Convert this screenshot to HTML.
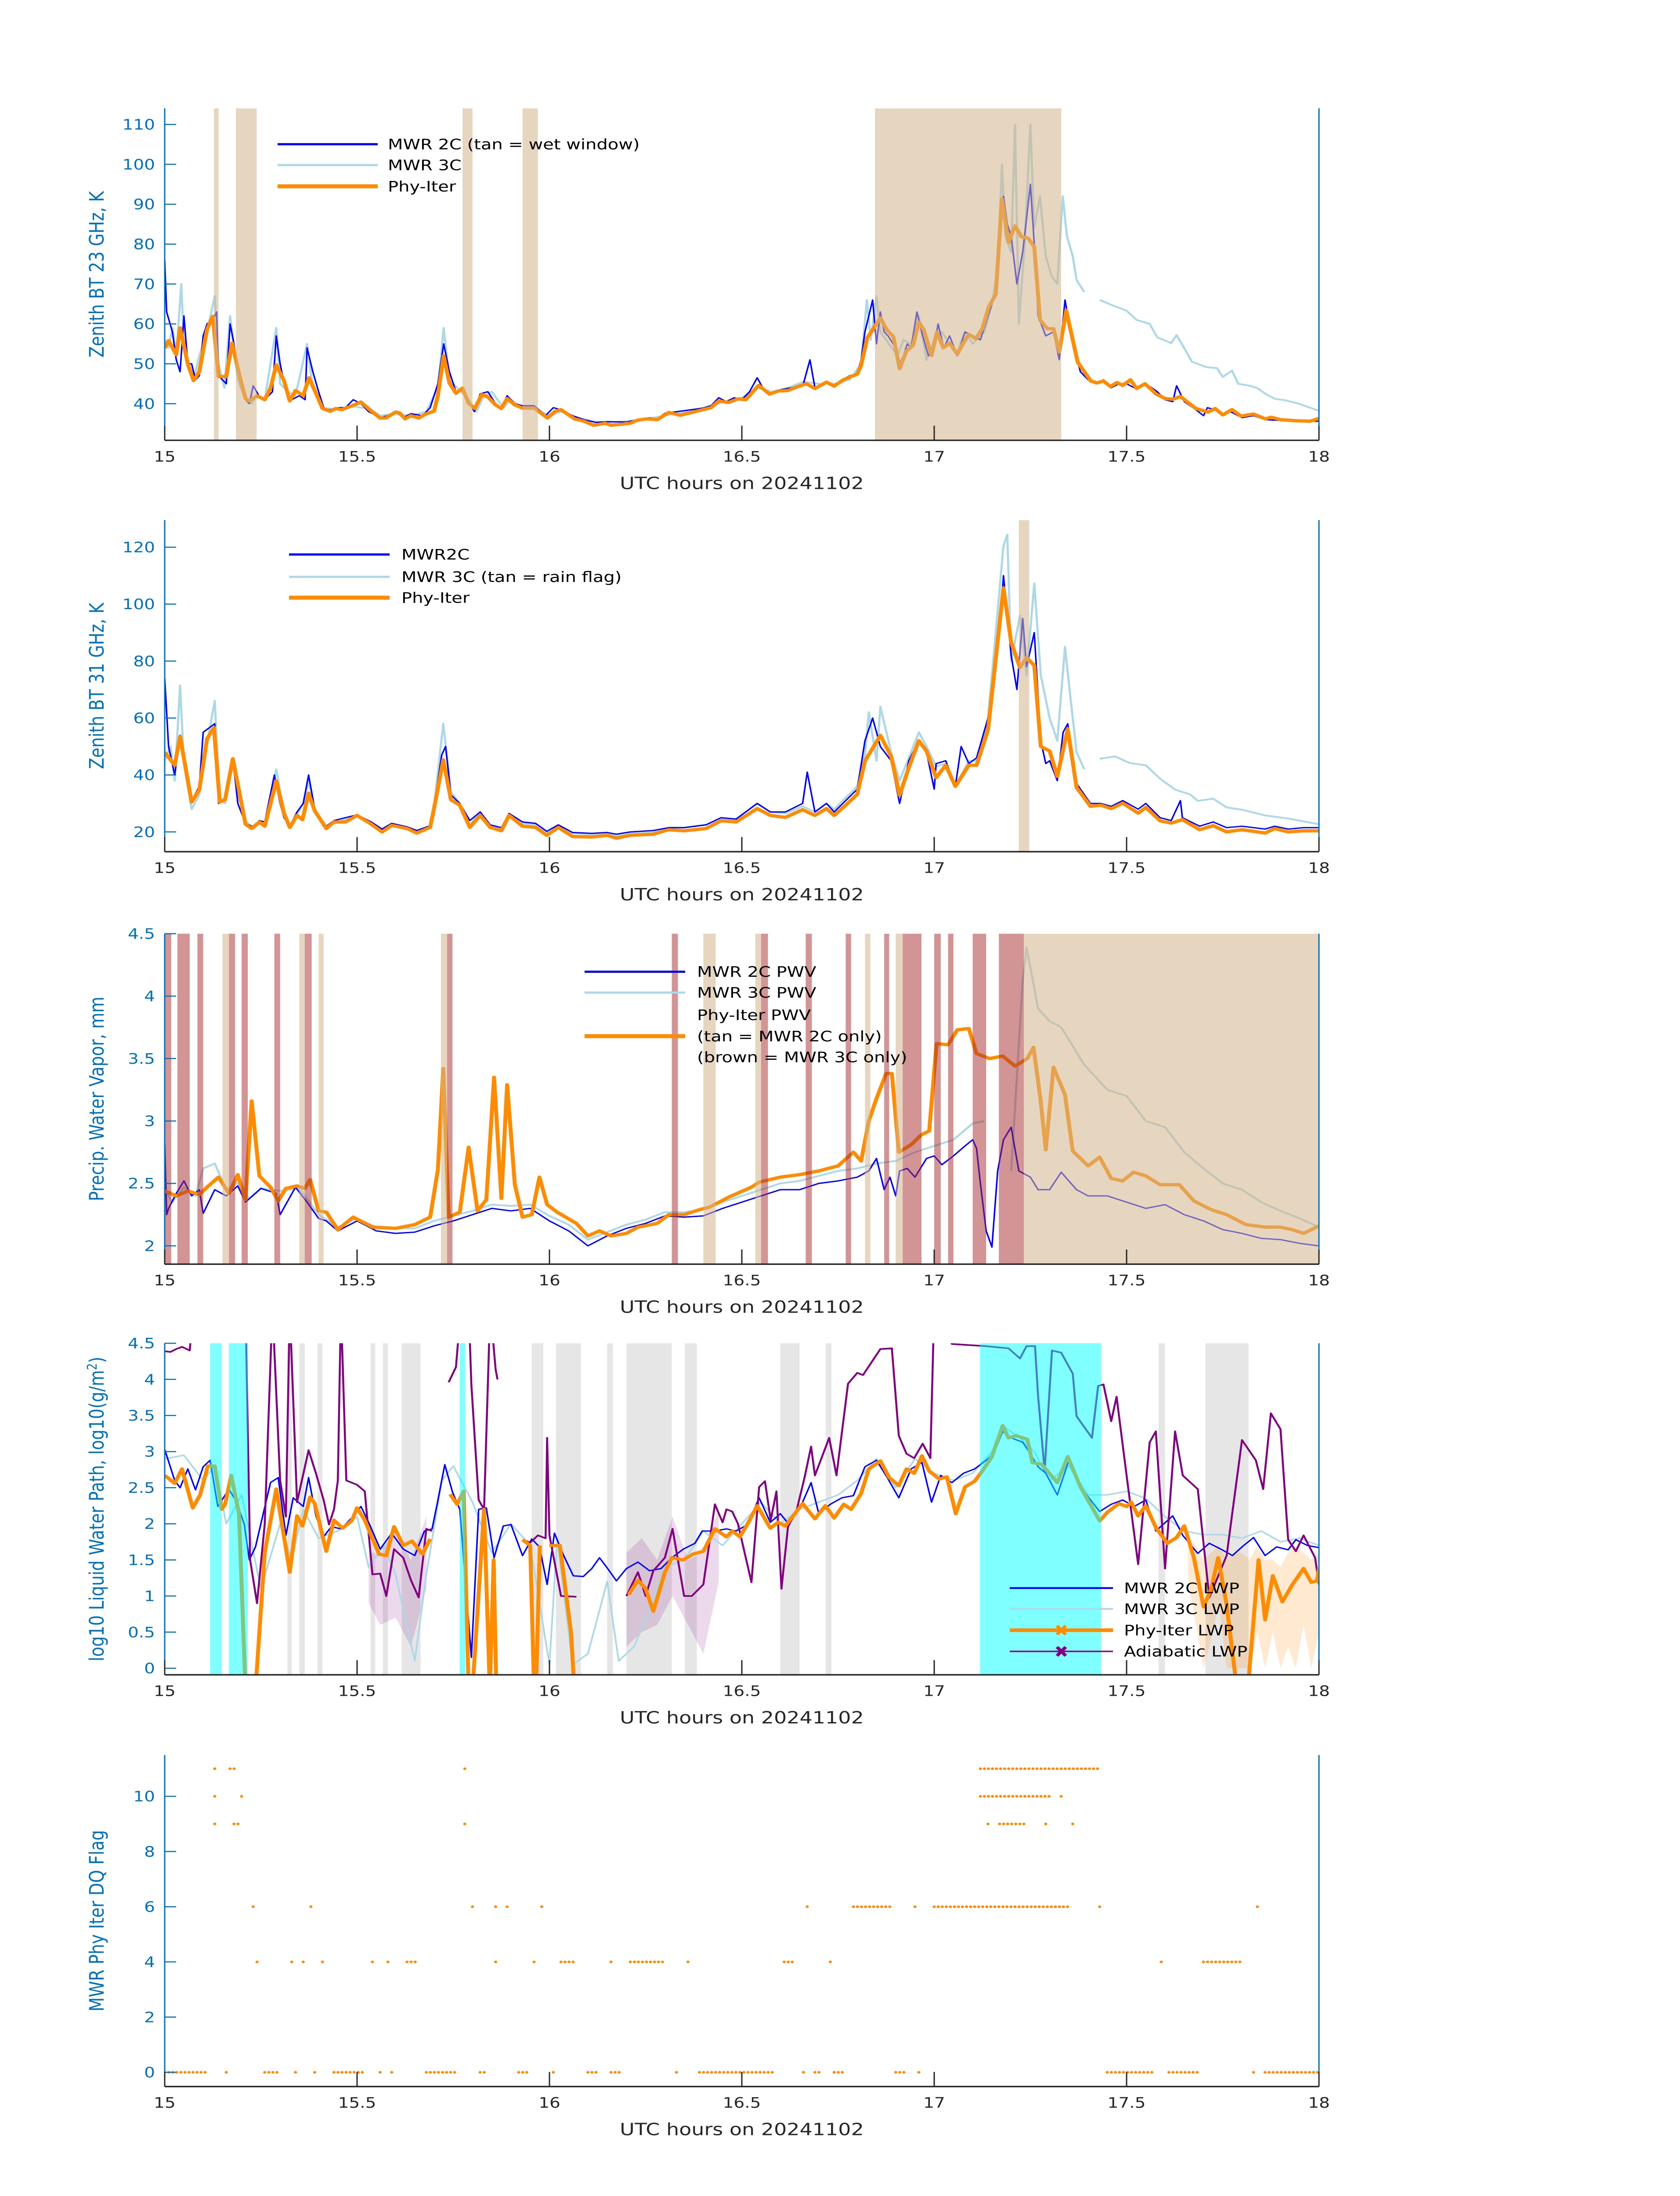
<!DOCTYPE html>
<html><head><meta charset="utf-8">
<style>
html,body{margin:0;padding:0;background:#fff;width:100%;height:100%;overflow:hidden;}
svg{display:block;position:absolute;left:0;top:0;width:100vw;height:100vh;}
text{font-family:"DejaVu Sans","Liberation Sans",sans-serif;}
</style></head>
<body>
<svg id="fig" viewBox="0 0 3825 6000" preserveAspectRatio="none" xmlns="http://www.w3.org/2000/svg">
<rect width="3825" height="6000" fill="#fff"/>
</svg>
<script>
// ---------- Panel 1: 23 GHz BT ----------
const p1OrangeT=[15.0,15.01,15.03,15.04,15.06,15.075,15.09,15.11,15.125,15.14,15.16,15.175,15.195,15.21,15.22,15.24,15.26,15.275,15.29,15.31,15.325,15.34,15.36,15.375,15.39,15.41,15.43,15.445,15.46,15.485,15.51,15.54,15.56,15.575,15.6,15.61,15.625,15.64,15.66,15.68,15.70,15.71,15.725,15.74,15.757,15.774,15.79,15.806,15.824,15.84,15.86,15.875,15.89,15.91,15.93,15.96,15.995,16.015,16.03,16.065,16.09,16.115,16.145,16.16,16.21,16.23,16.255,16.28,16.31,16.34,16.386,16.42,16.44,16.465,16.49,16.51,16.544,16.572,16.595,16.62,16.646,16.668,16.69,16.72,16.74,16.764,16.8,16.81,16.826,16.86,16.877,16.894,16.91,16.928,16.945,16.96,16.973,16.993,17.007,17.024,17.04,17.06,17.074,17.09,17.108,17.125,17.142,17.16,17.176,17.193,17.21,17.227,17.244,17.26,17.275,17.294,17.31,17.325,17.343,17.373,17.407,17.424,17.44,17.458,17.475,17.49,17.51,17.526,17.548,17.577,17.6,17.62,17.64,17.68,17.712,17.73,17.75,17.774,17.797,17.83,17.86,17.876,17.9,17.944,17.977,18.0];
const p1OrangeV=[53.9,55.8,52.3,59,50,45.8,48,58.6,61.9,46.8,46.8,55.2,46.8,41.3,40.7,42,41,43.9,49.7,45.8,40.7,43.3,42,46.5,43.3,38.8,38.1,38.8,38.5,39.4,40.4,37.9,36.4,36.4,37.9,37.7,36.2,37,36.4,37.5,38.1,42,52,45.2,42.6,43.9,40.1,38.8,42.3,41.7,39.7,38.8,41.3,39.7,38.9,38.9,36.4,38.1,38.5,36.2,35.6,34.6,35.1,34.6,35.1,35.9,36.2,36,37.8,37.1,38.2,39,40.7,40.3,41.2,41,44.6,42.4,43.2,43.3,44.3,45,43.8,45.4,44.4,46,47.4,49.6,56.5,61.5,58.5,56.8,48.8,53.2,54.6,60.4,58.5,52.1,57.9,54,55.2,52.4,54.9,57.4,56.3,58.8,64.3,67.4,91.3,80.4,84.6,81.8,81.5,79.3,61,58.8,58.8,53,63.4,50.4,45.7,45.2,45.7,44.3,45.3,44.6,46,43.8,45,42.4,41.3,41.1,41.8,38.8,37.9,38.8,37.2,38.5,36.9,37.4,36.2,36.6,36,35.7,35.6,36.3];
const p1BlueT=[15.0,15.005,15.02,15.03,15.04,15.05,15.06,15.07,15.08,15.09,15.1,15.11,15.125,15.135,15.14,15.16,15.17,15.18,15.19,15.21,15.22,15.23,15.245,15.26,15.28,15.29,15.3,15.315,15.33,15.35,15.365,15.37,15.385,15.4,15.415,15.43,15.45,15.47,15.49,15.51,15.53,15.56,15.58,15.6,15.62,15.64,15.67,15.69,15.71,15.725,15.74,15.757,15.774,15.79,15.805,15.82,15.84,15.86,15.875,15.89,15.91,15.93,15.96,15.99,16.01,16.03,16.06,16.09,16.12,16.15,16.2,16.23,16.26,16.28,16.3,16.33,16.37,16.4,16.42,16.44,16.46,16.48,16.5,16.52,16.54,16.56,16.58,16.6,16.63,16.66,16.677,16.69,16.72,16.74,16.76,16.78,16.8,16.81,16.82,16.84,16.85,16.86,16.87,16.88,16.9,16.91,16.92,16.93,16.94,16.955,16.97,16.985,17.0,17.01,17.025,17.04,17.06,17.08,17.1,17.12,17.14,17.16,17.17,17.18,17.19,17.2,17.215,17.23,17.25,17.26,17.27,17.29,17.31,17.325,17.34,17.36,17.38,17.4,17.42,17.44,17.46,17.48,17.5,17.52,17.55,17.58,17.6,17.62,17.63,17.65,17.68,17.7,17.71,17.73,17.75,17.77,17.8,17.83,17.86,17.9,17.95,18.0];
const p1BlueV=[76,63,58,51,48,62,50,50,46,47,57,60,61,63,47,45,60,55,48,41,40,44.5,42,41,43,57,50,43,41,42,41,54,48,43,38.5,38.5,39,39,41,40,38,36.5,37,38,36.5,37.5,37,39,45,55,48,43,44,40.5,38,42.5,43,40,39,42,40,39.5,39.5,37,39,38.5,37,36,35.3,35.5,35.4,36,36.5,36.2,37.6,38,38.5,38.9,39.5,41.5,40.5,41.5,41,43,46.5,43,42.5,43.5,44,45,51,44,45.5,44.5,46,47,47.5,51,58,66,55,63,58,57,54,50,52,55,54,63,57,52,54,60,54,57,52,58,57,56,62,68,85,92,85,82,70,78,95,80,62,57,58,51,66,55,48,46,45,46,44,45,45,44,45,43,41,40.5,44.5,40.5,38.5,37,39,38.5,37,38,36.5,37,36,35.8,35.6,35.6];
const p1LbT=[15.0,15.01,15.02,15.03,15.043,15.05,15.06,15.075,15.09,15.11,15.13,15.14,15.155,15.17,15.19,15.21,15.225,15.24,15.26,15.29,15.3,15.32,15.34,15.37,15.385,15.41,15.45,15.48,15.51,15.53,15.56,15.6,15.64,15.68,15.71,15.725,15.74,15.76,15.79,15.81,15.83,15.85,15.88,15.9,15.93,15.96,16.0,16.03,16.07,16.12,16.16,16.22,16.27,16.3,16.35,16.4,16.44,16.47,16.5,16.54,16.58,16.62,16.66,16.7,16.74,16.78,16.81,16.825,16.835,16.85,16.86,16.875,16.89,16.905,16.92,16.94,16.96,16.98,17.0,17.02,17.04,17.06,17.08,17.1,17.13,17.15,17.165,17.176,17.185,17.2,17.21,17.22,17.235,17.25,17.26,17.275,17.29,17.305,17.32,17.334,17.345,17.36,17.37,17.39,null,17.43,17.47,17.5,17.526,17.56,17.58,17.616,17.63,17.65,17.67,17.706,17.735,17.75,17.774,17.79,17.82,17.84,17.864,17.886,17.91,17.944,17.977,18.0];
const p1LbV=[56,54,59,52,70,55,49,46,52,58,67,50,44,62,46,41,40,42,41,59,45,43,42,55,44,39,38.5,39.5,39,39,37,37.5,37,38,44,59,46,44,41,38,42,43,39,41,39,39,37,38,36.5,35.5,35.3,35.8,36.5,37,38,39,40,41,41.5,44,43,44,45.5,45,45,46,50,66,56,67,58,56,54,52,56,55,62,51,56,58,55,53,58,55,58,65,74,100,82,78,110,60,80,110,84,92,77,72,70,92,82,77,71,68,null,66,64.4,63.3,61,60,56.6,55.2,57.2,53.9,50.5,49.2,48.9,46.7,48.3,45,44.5,43.9,42.3,41.2,40.9,40.1,39,38.2];
const p1Spans=[[15.128,15.14],[15.185,15.239],[15.774,15.80],[15.93,15.97],[16.846,17.33]];

// ---------- Panel 2: 31 GHz BT ----------
const p2OrangeT=[15.0,15.026,15.04,15.07,15.09,15.11,15.128,15.143,15.157,15.177,15.21,15.226,15.246,15.26,15.29,15.31,15.325,15.344,15.358,15.374,15.39,15.42,15.44,15.47,15.5,15.537,15.565,15.59,15.63,15.655,15.69,15.7,15.724,15.744,15.767,15.793,15.82,15.846,15.875,15.895,15.93,15.964,15.993,16.023,16.06,16.11,16.15,16.174,16.21,16.27,16.31,16.35,16.407,16.446,16.485,16.54,16.574,16.613,16.658,16.69,16.72,16.74,16.77,16.8,16.82,16.86,16.888,16.91,16.934,16.96,16.98,17.005,17.03,17.055,17.09,17.11,17.14,17.18,17.2,17.223,17.24,17.26,17.277,17.3,17.32,17.347,17.37,17.406,17.433,17.46,17.49,17.53,17.55,17.587,17.616,17.645,17.69,17.725,17.76,17.8,17.86,17.885,17.92,17.96,18.0];
const p2OrangeV=[48,43.4,53.5,30.5,34.8,52.7,56.6,30.5,31.3,45.7,22.7,21.2,23.5,22,37.9,26.6,21.6,25.8,24.3,33.6,27.4,21.2,23.5,23.5,25.8,22.7,20,22.3,21.2,19.6,21.6,28.2,45.3,31.3,29.4,21.6,25.8,21.6,20.4,25.8,22,21.6,18.8,21.6,18.4,18.2,18.8,17.8,18.8,19.2,20.8,20.4,21.2,23.9,23.5,28.2,25.8,25.1,27.8,25.8,28.2,25.8,29.4,33.2,44.9,53.9,46.5,32.9,42.6,52,48.4,39.1,43.4,36,43.4,43.4,55.9,105.7,86.6,77.7,81.2,78.5,50,48.4,39.5,56.2,35.6,29,29.4,28.2,30.1,26.6,28.6,23.9,23.1,24.3,20.8,22.2,20,20.8,19.6,21.2,20,20.4,20.4];
const p2BlueT=[15.0,15.01,15.026,15.04,15.06,15.07,15.09,15.1,15.11,15.13,15.14,15.157,15.177,15.19,15.21,15.23,15.246,15.26,15.285,15.3,15.31,15.325,15.344,15.36,15.374,15.39,15.42,15.44,15.47,15.5,15.537,15.565,15.59,15.63,15.655,15.69,15.7,15.72,15.73,15.744,15.767,15.793,15.82,15.846,15.875,15.895,15.93,15.964,15.993,16.023,16.06,16.11,16.15,16.174,16.21,16.27,16.31,16.35,16.407,16.446,16.485,16.54,16.574,16.613,16.658,16.67,16.69,16.72,16.74,16.77,16.8,16.82,16.84,16.86,16.888,16.91,16.934,16.96,16.98,17.0,17.005,17.03,17.055,17.07,17.09,17.11,17.14,17.17,17.18,17.2,17.215,17.23,17.24,17.26,17.277,17.29,17.3,17.32,17.335,17.347,17.37,17.406,17.433,17.46,17.49,17.53,17.55,17.587,17.616,17.64,17.645,17.69,17.725,17.76,17.8,17.86,17.885,17.92,17.96,18.0];
const p2BlueV=[74,50,40,54,36,31,36,55,56,58,30,32,46,30,23,21.8,24,23.5,40,30,25,22,27,30,40,28,22,24,25,26,23.5,21,23,21.8,20.5,22.2,29,47,50,33,30,24,27,22.5,21.5,26.5,23.5,23,20.2,22.5,19.8,19.5,19.8,19.2,20,20.5,21.5,21.5,22.5,25,24.5,30,27,27,30,41,27,30,27,31,35,52,60,50,45,30,45,52,48,35,44,45,36,50,44,46,60,90,110,82,70,95,78,90,52,44,45,38,55,58,37,30,30,29,31,28,30,25,24,31,25,22,23.5,21.5,22,21,22,21,21.5,21.5];
const p2LbT=[15.0,15.015,15.026,15.04,15.05,15.07,15.09,15.11,15.13,15.143,15.157,15.177,15.19,15.21,15.23,15.246,15.26,15.29,15.31,15.325,15.344,15.36,15.374,15.39,15.42,15.44,15.47,15.5,15.537,15.565,15.59,15.63,15.655,15.69,15.7,15.724,15.744,15.767,15.793,15.82,15.846,15.875,15.895,15.93,15.964,15.993,16.023,16.06,16.11,16.15,16.174,16.21,16.27,16.31,16.35,16.407,16.446,16.485,16.54,16.574,16.613,16.658,16.69,16.72,16.74,16.77,16.8,16.82,16.83,16.85,16.86,16.888,16.91,16.934,16.96,16.98,17.005,17.03,17.055,17.09,17.11,17.14,17.18,17.19,17.2,17.223,17.24,17.26,17.277,17.3,17.32,17.34,17.35,17.37,17.39,null,17.43,17.47,17.508,17.55,17.587,17.627,17.665,17.685,17.725,17.76,17.8,17.86,17.92,18.0];
const p2LbV=[45,50,38,71.4,44,28,33,51,66,32,30,44,33,24,21,23,22,42,27,22,26,30,38,28,21.5,23,24.5,26,23,21,23,21.5,20.2,22,29,58,34,30,22.5,27,22,21,26,23,22.5,19.8,22,19.6,19,19.4,18.6,19.5,20,21.5,21.5,22.5,24.5,24.5,30,27,26.5,29,27,30,28,32,36,47,62,45,64,48,38,46,55,50,43,44,36,45,45,60,120.5,124.4,80,96,75,107.3,75,60,52,85,72.2,48,42,null,45.7,46.5,44.2,43.4,38.7,34.8,33.2,30.9,31.7,28.6,27.8,25.8,24.7,22.7];
const p2Spans=[[17.22,17.247]];

// ---------- Panel 3: PWV ----------
const p3OrangeT=[15.0,15.03,15.06,15.09,15.11,15.14,15.167,15.19,15.21,15.226,15.246,15.275,15.295,15.315,15.344,15.364,15.378,15.4,15.42,15.45,15.49,15.54,15.6,15.65,15.69,15.71,15.724,15.738,15.767,15.79,15.813,15.836,15.856,15.875,15.89,15.91,15.93,15.954,15.974,15.994,16.02,16.07,16.1,16.13,16.16,16.2,16.23,16.28,16.31,16.35,16.39,16.416,16.466,16.525,16.545,16.6,16.65,16.7,16.75,16.79,16.81,16.83,16.85,16.875,16.89,16.908,16.94,16.967,16.987,17.006,17.036,17.06,17.09,17.11,17.144,17.178,17.21,17.242,17.258,17.276,17.29,17.31,17.34,17.36,17.4,17.43,17.46,17.49,17.518,17.55,17.587,17.637,17.675,17.72,17.76,17.81,17.86,17.9,17.93,17.96,18.0];
const p3OrangeV=[2.44,2.40,2.44,2.41,2.47,2.55,2.42,2.57,2.37,3.16,2.56,2.47,2.36,2.46,2.48,2.46,2.53,2.28,2.27,2.13,2.23,2.15,2.14,2.17,2.23,2.61,3.42,2.23,2.27,2.79,2.28,2.37,3.35,2.38,3.29,2.49,2.23,2.25,2.55,2.33,2.27,2.18,2.08,2.12,2.08,2.10,2.15,2.18,2.25,2.25,2.29,2.31,2.39,2.47,2.51,2.55,2.57,2.6,2.64,2.75,2.68,3.0,3.18,3.38,3.38,2.75,2.81,2.89,2.92,3.62,3.61,3.73,3.74,3.54,3.5,3.52,3.44,3.5,3.59,3.18,2.77,3.43,3.21,2.76,2.64,2.71,2.54,2.52,2.59,2.56,2.49,2.49,2.36,2.29,2.25,2.17,2.15,2.15,2.13,2.1,2.16];
const p3BlueT=[15.0,15.005,15.01,15.03,15.05,15.07,15.09,15.1,15.13,15.16,15.19,15.21,15.25,15.29,15.3,15.34,15.37,15.4,15.42,15.45,15.5,15.55,15.6,15.65,15.7,15.75,15.8,15.85,15.9,15.95,16.0,16.05,16.1,16.15,16.2,16.25,16.3,16.35,16.4,16.45,16.5,16.55,16.6,16.65,16.7,16.75,16.8,16.83,16.85,16.87,16.885,16.9,16.91,16.93,16.95,16.98,17.0,17.02,17.05,17.08,17.1,17.11,17.12,17.135,17.15,17.165,17.18,17.2,17.22,17.25,17.27,17.3,17.33,17.37,17.4,17.45,17.5,17.55,17.6,17.65,17.7,17.75,17.8,17.85,17.9,17.95,18.0];
const p3BlueV=[2.82,2.25,2.3,2.42,2.52,2.4,2.45,2.26,2.45,2.4,2.48,2.35,2.46,2.42,2.25,2.47,2.35,2.22,2.2,2.12,2.2,2.12,2.1,2.11,2.16,2.2,2.25,2.3,2.28,2.3,2.2,2.12,2.0,2.08,2.14,2.18,2.24,2.23,2.24,2.3,2.35,2.4,2.45,2.45,2.5,2.52,2.55,2.6,2.7,2.45,2.55,2.4,2.6,2.62,2.55,2.7,2.72,2.65,2.72,2.8,2.85,2.78,2.5,2.12,1.99,2.6,2.85,2.95,2.6,2.55,2.45,2.45,2.59,2.45,2.4,2.4,2.35,2.3,2.33,2.25,2.2,2.13,2.1,2.06,2.05,2.02,2.0];
const p3LbT=[15.0,15.02,15.05,15.08,15.1,15.13,15.16,15.19,15.22,15.25,15.3,15.35,15.4,15.45,15.5,15.55,15.6,15.65,15.7,15.75,15.8,15.85,15.9,15.95,16.0,16.05,16.1,16.15,16.2,16.25,16.3,16.35,16.4,16.45,16.5,16.55,16.6,16.65,16.7,16.75,16.8,16.85,16.9,16.95,17.0,17.05,17.1,17.13,null,17.2,17.23,17.24,17.27,17.3,17.33,17.37,17.39,17.42,17.45,17.5,17.55,17.6,17.65,17.7,17.75,17.8,17.85,17.9,17.95,18.0];
const p3LbV=[2.45,2.35,2.47,2.4,2.62,2.66,2.45,2.5,2.38,2.46,2.44,2.46,2.25,2.15,2.22,2.15,2.14,2.14,2.2,2.24,2.28,2.33,2.32,2.33,2.24,2.17,2.05,2.11,2.17,2.21,2.27,2.27,2.29,2.35,2.4,2.45,2.5,2.52,2.56,2.6,2.62,2.66,2.68,2.75,2.8,2.85,2.98,3.0,null,2.6,4.12,4.39,3.9,3.8,3.75,3.55,3.45,3.35,3.25,3.2,3.0,2.95,2.75,2.62,2.5,2.45,2.35,2.28,2.22,2.15];
const p3Brown=[[15.0,15.017],[15.033,15.065],[15.085,15.1],[15.167,15.183],[15.2,15.216],[15.285,15.3],[15.364,15.382],[15.734,15.748],[16.318,16.334],[16.55,16.568],[16.666,16.682],[16.77,16.784],[16.87,16.883],[16.918,16.967],[17.0,17.017],[17.036,17.05],[17.1,17.135],[17.168,17.233]];
const p3Tan=[[15.15,15.167],[15.35,15.364],[15.4,15.413],[15.718,15.734],[16.4,16.432],[16.535,16.55],[16.82,16.834],[16.9,16.918],[17.233,18.0]];

// ---------- Panel 4: LWP ----------
const p4OrangeT=[15.0,15.026,15.045,15.073,15.092,15.112,15.13,15.148,15.157,15.173,15.193,15.21,15.236,15.26,15.29,15.325,15.344,15.358,15.378,15.39,15.42,15.44,15.462,15.486,15.5,15.52,15.557,15.576,15.596,15.62,15.643,15.67,15.69,null,15.742,15.76,15.777,15.79,15.8,15.83,15.845,15.855,15.862,15.87,null,15.93,15.95,15.96,15.965,15.975,null,16.0,16.027,16.056,16.065,null,16.206,16.23,16.25,16.27,16.3,16.318,16.348,16.373,16.4,16.43,16.46,16.475,16.495,16.514,16.54,16.574,16.594,16.613,16.658,16.69,16.717,16.74,16.765,16.784,16.81,16.83,16.86,16.883,16.908,16.928,16.948,16.968,16.987,17.013,17.033,17.056,17.08,17.105,17.125,17.15,17.178,17.193,17.213,17.242,17.255,17.28,17.32,17.347,17.38,17.43,17.45,17.48,17.5,17.512,17.53,17.55,17.577,17.606,17.63,17.65,17.675,17.7,17.72,17.738,17.76,17.787,17.815,17.843,17.86,17.88,17.905,17.93,17.96,17.98,17.995,18.0];
const p4OrangeV=[2.67,2.56,2.76,2.22,2.4,2.8,2.8,2.2,2.27,2.67,2.14,-0.3,-0.3,1.6,2.48,1.33,2.11,1.97,2.37,2.28,1.62,2.05,1.94,2.04,2.22,2.05,1.58,1.56,1.96,1.7,1.76,1.58,1.79,null,2.41,2.27,2.45,-0.3,-0.3,2.2,-0.3,1.5,-0.3,-0.3,null,1.78,1.7,-0.3,-0.3,1.7,null,1.7,1.7,0.49,-0.3,null,1.02,1.22,1.1,0.79,1.33,1.53,1.5,1.58,1.62,1.93,1.82,1.9,1.82,1.99,2.25,1.94,2.02,1.97,2.28,2.07,2.25,2.08,2.27,2.2,2.42,2.76,2.87,2.64,2.53,2.76,2.7,2.94,2.73,2.62,2.65,2.14,2.51,2.59,2.73,2.93,3.36,3.19,3.22,3.17,2.85,2.82,2.57,2.93,2.51,2.04,2.16,2.28,2.24,2.3,2.11,2.25,1.94,1.73,1.81,1.97,1.53,0.85,1.1,1.53,0.88,-0.3,-0.3,1.5,0.67,1.28,0.92,1.15,1.38,1.19,1.21,1.38];
const p4BlueT=[15.0,15.026,15.04,15.06,15.08,15.1,15.118,15.138,15.167,15.187,15.207,15.22,15.236,15.256,15.275,15.295,15.315,15.334,15.36,15.374,15.393,15.413,15.433,15.458,15.486,15.51,15.53,15.56,15.59,15.62,15.65,15.675,15.695,15.708,15.728,15.748,15.767,15.797,15.816,15.836,15.856,15.88,15.9,15.93,15.954,15.974,15.994,16.013,16.037,16.062,16.088,16.11,16.13,16.15,16.174,16.2,16.23,16.26,16.29,16.318,16.348,16.378,16.397,16.43,16.46,16.485,16.515,16.545,16.574,16.6,16.623,16.658,16.68,16.7,16.73,16.76,16.79,16.82,16.85,16.878,16.908,16.94,16.968,16.993,17.017,17.046,17.076,17.105,17.135,17.155,17.178,17.2,17.23,17.25,17.27,17.29,17.32,17.35,17.38,17.43,17.46,17.49,17.52,17.55,17.576,17.62,17.646,17.685,17.715,17.745,17.775,17.8,17.83,17.86,17.89,17.92,17.94,17.97,18.0];
const p4BlueV=[3.03,2.6,2.5,2.76,2.47,2.79,2.88,2.24,2.48,2.3,1.99,1.5,1.68,2.14,2.57,2.64,1.84,2.36,2.24,2.64,2.11,1.82,1.96,1.93,2.08,2.24,2.02,1.65,1.87,1.65,1.56,1.9,1.93,2.27,2.82,2.44,2.2,0.15,2.2,2.22,1.53,1.97,1.99,1.56,1.79,1.68,1.16,1.87,1.56,1.28,1.27,1.38,1.53,1.39,1.21,1.38,1.47,1.35,1.38,1.53,1.65,1.73,1.9,1.9,1.93,1.9,1.99,2.36,2.02,2.14,1.99,2.3,2.57,2.14,2.27,2.36,2.39,2.79,2.88,2.64,2.36,2.76,2.85,2.3,2.67,2.57,2.7,2.76,2.88,2.97,3.28,3.19,3.13,2.97,2.79,2.7,2.4,2.88,2.51,2.17,2.27,2.33,2.24,2.33,1.9,2.11,1.84,1.59,1.73,1.65,1.56,1.68,1.81,1.56,1.68,1.64,1.78,1.7,1.67];
const p4LbT=[15.0,15.05,15.1,15.13,15.16,15.2,15.25,15.3,15.33,15.36,15.4,15.45,15.5,15.53,15.57,15.6,15.65,15.68,15.72,15.75,15.8,15.85,15.9,15.95,16.0,16.02,16.06,16.1,16.15,16.18,16.22,16.26,16.3,16.35,16.4,16.45,16.5,16.55,16.6,16.65,16.7,16.75,16.8,16.85,16.9,16.95,17.0,17.05,17.1,17.15,17.18,17.22,17.26,17.3,17.35,17.4,17.45,17.5,17.55,17.6,17.65,17.7,17.75,17.8,17.85,17.9,17.95,18.0];
const p4LbV=[2.9,2.95,2.6,2.8,2.0,2.4,1.1,2.0,1.5,2.2,1.8,1.9,2.1,1.4,1.7,1.3,0.1,1.3,2.6,2.8,2.3,1.6,2.0,1.7,0.05,1.8,0.05,0.2,1.2,0.1,0.3,0.8,1.4,1.5,1.9,1.7,2.0,2.3,2.0,2.2,2.3,2.4,2.6,2.9,2.5,2.9,2.7,2.6,2.7,3.0,3.35,3.2,3.0,2.6,2.8,2.4,2.4,2.45,2.35,2.1,1.9,1.85,1.85,1.8,1.9,1.75,1.8,1.7];
const p4PurpleT=[15.0,15.015,15.03,15.045,15.065,15.075,15.21,15.222,15.24,15.26,15.28,15.3,15.315,15.325,15.344,15.374,15.393,15.413,15.427,15.44,15.45,15.458,15.472,15.5,15.52,15.54,15.56,15.576,15.596,15.62,15.64,15.66,15.68,15.695,null,15.738,15.757,15.77,15.79,15.797,15.816,15.83,15.846,15.86,15.865,null,15.93,15.95,15.97,15.99,15.994,16.0,16.03,16.07,null,16.2,16.23,16.25,16.27,16.3,16.32,16.35,16.37,16.4,16.43,16.45,16.46,16.475,16.49,16.525,16.545,16.56,16.575,16.59,16.603,16.62,16.643,16.663,16.68,16.69,16.727,16.746,16.776,16.8,16.815,16.86,16.89,16.908,16.928,16.948,16.97,16.99,17.0,17.046,17.135,17.193,17.223,17.24,17.262,17.27,17.287,17.306,17.33,17.36,17.37,17.41,17.426,17.44,17.46,17.474,17.5,17.53,17.56,17.576,17.6,17.626,17.646,17.685,17.715,17.76,17.8,17.836,17.855,17.875,17.9,17.92,17.94,17.96,17.99,18.0];
const p4PurpleV=[4.39,4.38,4.42,4.45,4.4,5,5,1.5,0.9,2.0,5,2.6,2.1,5,2.3,3.02,2.7,2.33,1.99,2.2,2.6,5,2.6,2.54,2.45,1.3,1.31,1.0,1.65,1.53,1.22,0.98,1.93,1.9,null,3.96,4.17,5,5,3.93,2.33,2.2,5,4.14,4.0,null,1.78,1.74,1.84,1.8,3.19,1.84,1.0,0.99,null,1.0,1.33,1.0,1.35,1.53,1.93,1.0,1.0,1.16,2.27,2.02,2.2,2.17,2.0,1.19,2.51,2.59,2.05,2.45,1.1,1.96,2.2,2.64,3.07,2.67,3.19,2.67,3.94,4.09,4.06,4.42,4.43,3.22,2.97,2.91,3.11,2.91,5,4.49,4.46,4.43,4.29,4.46,4.46,3.77,2.73,4.4,4.37,4.08,3.49,3.19,3.91,3.93,3.42,3.76,2.67,1.44,3.13,3.28,1.38,3.28,2.67,2.48,0.98,1.56,3.16,2.88,2.48,3.53,3.31,1.78,1.62,1.84,1.53,1.16];
const p4BandT=[17.66,17.68,17.7,17.72,17.74,17.76,17.78,17.8,17.82,17.84,17.86,17.88,17.9,17.92,17.94,17.96,17.98,18.0];
const p4BandHi=[1.8,1.7,1.5,1.6,1.7,1.5,1.6,1.6,1.5,1.7,1.5,1.5,1.4,1.6,1.7,1.6,1.5,1.6];
const p4BandLo=[1.2,0.6,0,0.4,0.9,0,0,0,0,0.5,0,0.5,0,0.3,0,0.6,0,0.5];
const p4PBandT=[15.53,15.56,15.6,15.64,15.68,null,16.2,16.24,16.28,16.32,16.36,16.4,16.44];
const p4PBandHi=[1.6,1.6,1.9,1.5,2.1,null,1.6,1.8,1.5,2.1,1.5,1.6,2.2];
const p4PBandLo=[0.9,0.6,0.7,0.3,1.1,null,0.3,0.5,0.6,1.0,0.6,0.2,1.2];
const p4Cyan=[[15.118,15.148],[15.167,15.216],[15.767,15.781],[17.119,17.434]];
const p4Gray=[[15.319,15.33],[15.35,15.364],[15.397,15.41],[15.535,15.547],[15.567,15.58],[15.616,15.665],[15.954,15.984],[16.017,16.082],[16.15,16.165],[16.2,16.318],[16.352,16.383],[16.6,16.65],[16.718,16.733],[17.583,17.6],[17.705,17.817]];

// ---------- Panel 5: DQ flags (runs of consecutive flagged samples) ----------
const dqFlags=[11,10,9,6,4,0];
const dqRuns=[
 [[15.13,15.14],[15.17,15.19],[15.78,15.78],[17.12,17.43]],
 [[15.13,15.13],[15.2,15.21],[17.12,17.3],[17.33,17.34]],
 [[15.13,15.13],[15.18,15.2],[15.78,15.78],[17.14,17.14],[17.17,17.24],[17.29,17.29],[17.36,17.37]],
 [[15.23,15.23],[15.38,15.38],[15.8,15.8],[15.86,15.86],[15.89,15.89],[15.98,15.99],[16.67,16.67],[16.79,16.89],[16.95,16.95],[17.0,17.35],[17.43,17.44],[17.84,17.84]],
 [[15.24,15.24],[15.33,15.33],[15.36,15.36],[15.41,15.41],[15.54,15.54],[15.58,15.58],[15.63,15.66],[15.86,15.87],[15.96,15.97],[16.03,16.07],[16.16,16.16],[16.21,16.3],[16.36,16.37],[16.61,16.64],[16.73,16.73],[17.59,17.59],[17.7,17.8]],
 [[15.0,15.11],[15.16,15.16],[15.26,15.3],[15.34,15.34],[15.39,15.39],[15.44,15.52],[15.56,15.56],[15.59,15.59],[15.68,15.76],[15.82,15.84],[15.92,15.95],[16.01,16.01],[16.1,16.13],[16.16,16.19],[16.33,16.34],[16.39,16.58],[16.66,16.66],[16.69,16.71],[16.74,16.77],[16.9,16.93],[16.96,16.97],[17.45,17.57],[17.61,17.69],[17.83,17.83],[17.86,18.0]]
];
const dqStep=0.0105;

const xTicks=[15,15.5,16,16.5,17,17.5,18];
const xTickLabels=['15','15.5','16','16.5','17','17.5','18'];

// ---------- rendering ----------
const NS='http://www.w3.org/2000/svg';
const svg=document.getElementById('fig');
const X0=375,X1=3003;
function xs(t){return X0+(t-15)*(X1-X0)/3;}
function mk(tag,attrs,parent){const e=document.createElementNS(NS,tag);for(const k in attrs)e.setAttribute(k,attrs[k]);(parent||svg).appendChild(e);return e;}
const panels=[
 {top:296,bot:1203,v0:40,y0:1103,k:10.9,ticks:[40,50,60,70,80,90,100,110],lab:'Zenith BT 23 GHz, K',name:'bt23'},
 {top:1421,bot:2327,v0:20,y0:2273,k:7.78,ticks:[20,40,60,80,100,120],lab:'Zenith BT 31 GHz, K',name:'bt31'},
 {top:2551,bot:3454,v0:2,y0:3404,k:341.2,ticks:[2,2.5,3,3.5,4,4.5],lab:'Precip. Water Vapor, mm',name:'pwv'},
 {top:3670,bot:4576,v0:0,y0:4558,k:197.3,ticks:[0,0.5,1,1.5,2,2.5,3,3.5,4,4.5],lab:'log10 Liquid Water Path, log10(g/m$)',name:'lwp'},
 {top:4795,bot:5701,v0:0,y0:5662,k:75.4,ticks:[0,2,4,6,8,10],lab:'MWR Phy Iter DQ Flag',name:'dq'}
];
panels.forEach((p,i)=>{
 p.ys=v=>p.y0-(v-p.v0)*p.k;
 const cp=mk('clipPath',{id:'clip'+i});
 mk('rect',{x:X0,y:p.top,width:X1-X0,height:p.bot-p.top},cp);
 p.g=mk('g',{'clip-path':'url(#clip'+i+')'});
 
 
});
function spans(p,arr,fill,op,name){
 arr.forEach(s=>{const r=mk('rect',{x:xs(s[0]),y:p.top,width:Math.max(2,xs(s[1])-xs(s[0])),height:p.bot-p.top,fill:fill,'fill-opacity':op},p.g);
 
 });
}
function line(p,T,V,color,w,name,op){
 let d='',pen=false;
 for(let i=0;i<T.length;i++){
  if(T[i]===null||V[i]===null){pen=false;continue;}
  d+=(pen?'L':'M')+xs(T[i]).toFixed(1)+' '+p.ys(V[i]).toFixed(1)+' ';pen=true;
 }
 const e=mk('path',{d:d,fill:'none',stroke:color,'stroke-width':w,'stroke-linejoin':'round','stroke-opacity':op||1},p.g);
 
 
}
function band(p,T,H,L,color,op,name){
 let segs=[[]];
 for(let i=0;i<T.length;i++){if(T[i]===null){segs.push([]);continue;}segs[segs.length-1].push(i);}
 segs.forEach(s=>{if(s.length<2)return;
  let d='M'+s.map(i=>xs(T[i]).toFixed(1)+' '+p.ys(H[i]).toFixed(1)).join(' L');
  d+=' L'+s.slice().reverse().map(i=>xs(T[i]).toFixed(1)+' '+p.ys(L[i]).toFixed(1)).join(' L')+' Z';
  const e=mk('path',{d:d,fill:color,'fill-opacity':op},p.g);
  
  });
}
const BLUE='#0000ff',LB='#add8e6',OR='#ff8c00',PU='#800080',TAN='rgb(210,180,140)',BROWN='rgb(165,42,42)';
// P1
line(panels[0],p1LbT,p1LbV,LB,5,'mwr3c-bt23-line');
line(panels[0],p1BlueT,p1BlueV,BLUE,3.5,'mwr2c-bt23-line');
line(panels[0],p1OrangeT,p1OrangeV,OR,9,'phy-iter-bt23-line');
spans(panels[0],p1Spans,TAN,0.55,'wet-window-span');
// P2
line(panels[1],p2LbT,p2LbV,LB,5,'mwr3c-bt31-line');
line(panels[1],p2BlueT,p2BlueV,BLUE,3.5,'mwr2c-bt31-line');
line(panels[1],p2OrangeT,p2OrangeV,OR,9,'phy-iter-bt31-line');
spans(panels[1],p2Spans,TAN,0.55,'rain-flag-span');
// P3
line(panels[2],p3LbT,p3LbV,LB,5,'mwr3c-pwv-line');
line(panels[2],p3BlueT,p3BlueV,BLUE,3.5,'mwr2c-pwv-line');
line(panels[2],p3OrangeT,p3OrangeV,OR,9,'phy-iter-pwv-line');
spans(panels[2],p3Tan,TAN,0.55,'mwr2c-only-span');
spans(panels[2],p3Brown,BROWN,0.5,'mwr3c-only-span');
// P4
spans(panels[3],p4Gray,'rgb(190,190,190)',0.38,'flag-gray-span');
band(panels[3],p4PBandT,p4PBandHi,p4PBandLo,PU,0.15,'adiabatic-uncertainty-band');
band(panels[3],p4BandT,p4BandHi,p4BandLo,OR,0.18,'phy-iter-uncertainty-band');
line(panels[3],p4LbT,p4LbV,LB,4,'mwr3c-lwp-line');
line(panels[3],p4BlueT,p4BlueV,BLUE,3.5,'mwr2c-lwp-line');
line(panels[3],p4PurpleT,p4PurpleV,PU,4.5,'adiabatic-lwp-line');
line(panels[3],p4OrangeT,p4OrangeV,OR,9,'phy-iter-lwp-line');
spans(panels[3],p4Cyan,'#00ffff',0.5,'cyan-flag-span');
// P5 dots
dqRuns.forEach((runs,fi)=>{
 runs.forEach(r=>{
  for(let t=r[0];t<=r[1]+1e-6;t+=dqStep){
   const c=mk('circle',{cx:xs(t).toFixed(1),cy:panels[4].ys(dqFlags[fi]),r:3.6,fill:OR},panels[4].g);
   
   
  }
 });
});
// Axes
panels.forEach((p,i)=>{
 const ax=mk('g',{});
 
 
 mk('line',{x1:X0,y1:p.top,x2:X0,y2:p.bot,stroke:'#0072bd','stroke-width':3},ax);
 mk('line',{x1:X1,y1:p.top,x2:X1,y2:p.bot,stroke:'#0072bd','stroke-width':3},ax);
 mk('line',{x1:X0,y1:p.bot,x2:X1,y2:p.bot,stroke:'#262626','stroke-width':4},ax);
 p.ticks.forEach(v=>{const y=p.ys(v);
  mk('line',{x1:X0,y1:y,x2:X0+26,y2:y,stroke:'#0072bd','stroke-width':3},ax);
  const t=mk('text',{x:X0-22,y:y+14,'text-anchor':'end','font-size':39,fill:'#0072bd'},ax);
  t.textContent=String(v);
  
  
 });
 xTicks.forEach((v,j)=>{const x=xs(v);
  mk('line',{x1:x,y1:p.bot,x2:x,y2:p.bot-40,stroke:'#262626','stroke-width':3},ax);
  const t=mk('text',{x:x,y:p.bot+58,'text-anchor':'middle','font-size':39,fill:'#262626'},ax);
  t.textContent=xTickLabels[j];
  
  
 });
 const xl=mk('text',{x:1689,y:p.bot+133,'text-anchor':'middle','font-size':46,fill:'#262626'},ax);
 xl.textContent='UTC hours on 20241102';
 
 
 const cy=(p.top+p.bot)/2;
 const yl=mk('text',{x:0,y:0,'text-anchor':'middle','font-size':45,fill:'#0072bd',transform:'translate(236,'+cy+') rotate(-90)'},ax);
 
 
 if(p.lab.indexOf('$')>=0){
  yl.textContent='log10 Liquid Water Path, log10(g/m';
  const s=mk('tspan',{dy:-16,'font-size':30},yl);s.textContent='2';
  const s2=mk('tspan',{dy:16},yl);s2.textContent=')';
 } else yl.textContent=p.lab;
});
// Legends
function legend(x1,x2,tx,entries,name){
 const g=mk('g',{});
 
 
 entries.forEach(e=>{
  if(e.c){mk('line',{x1:x1,y1:e.y,x2:x2,y2:e.y,stroke:e.c,'stroke-width':e.w},g);}
  if(e.m==='x'){const cx=(x1+x2)/2;mk('path',{d:`M${cx-10} ${e.y-12}L${cx+10} ${e.y+12}M${cx+10} ${e.y-12}L${cx-10} ${e.y+12}`,stroke:e.c,'stroke-width':8},g);}
  const t=mk('text',{x:tx,y:e.y+14,'font-size':40,fill:'#000'},g);
  t.textContent=e.t;
  
  
 });
}
legend(632,860,883,[{y:394,c:BLUE,w:6,t:'MWR 2C (tan = wet window)'},{y:451,c:LB,w:6,t:'MWR 3C'},{y:509,c:OR,w:11,t:'Phy-Iter'}],'bt23-legend');
legend(658,887,914,[{y:1515,c:BLUE,w:6,t:'MWR2C'},{y:1576,c:LB,w:6,t:'MWR 3C (tan = rain flag)'},{y:1633,c:OR,w:11,t:'Phy-Iter'}],'bt31-legend');
legend(1331,1560,1587,[{y:2655,c:BLUE,w:6,t:'MWR 2C PWV'},{y:2712,c:LB,w:6,t:'MWR 3C PWV'},{y:2773,t:'Phy-Iter PWV'},{y:2831,c:OR,w:11,t:'(tan = MWR 2C only)'},{y:2888,t:'(brown = MWR 3C only)'}],'pwv-legend');
legend(2299,2534,2559,[{y:4339,c:BLUE,w:5,t:'MWR 2C LWP'},{y:4396,c:LB,w:5,t:'MWR 3C LWP'},{y:4454,c:OR,w:10,m:'x',t:'Phy-Iter LWP'},{y:4512,c:PU,w:4,m:'x',t:'Adiabatic LWP'}],'lwp-legend');
</script>
</body></html>
